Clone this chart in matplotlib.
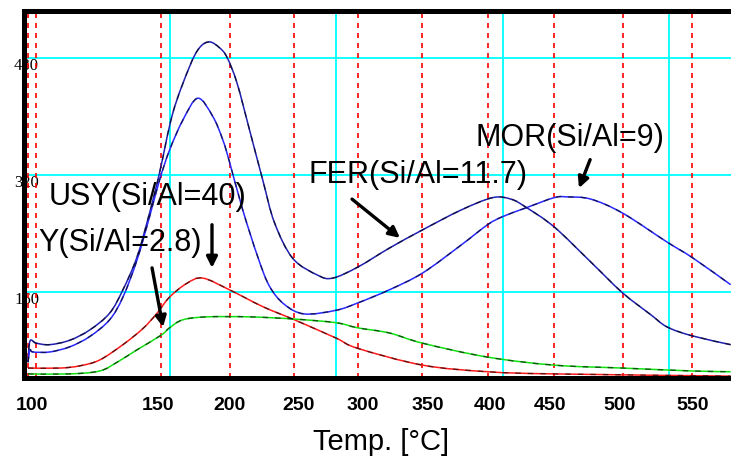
import matplotlib
matplotlib.use("Agg")
import matplotlib.pyplot as plt
from matplotlib.path import Path
from matplotlib.patches import PathPatch

# time axis in minutes, signal in a.u.
fer_t = [1.5, 1.62, 2.0, 2.8, 4.0, 5.2, 6.4, 7.2, 8.05, 8.8, 9.4, 10.2, 11.2, 11.8, 12.4, 13.0,
         13.45, 14.05, 14.8, 15.6, 16.3, 17.4, 18.9, 19.8, 21.3, 23.2, 25.2, 27.5, 29.4, 30.5,
         31.4, 33.1, 35.3, 37.2, 38.9, 39.9, 41.4, 43.7]
fer_y = [64, 93, 90, 88, 94, 108, 131, 163, 208, 268, 323, 405, 468, 494, 502, 494,
         481, 446, 382, 313, 255, 206, 183, 179, 194, 220, 245, 272, 289, 287,
         276, 249, 201, 159, 129, 112, 100, 88]

mor_t = [1.5, 1.62, 1.8, 2.8, 4.0, 5.2, 6.4, 7.2, 8.05, 8.8, 9.4, 10.0, 10.8, 11.7, 12.6,
         13.2, 13.6, 14.4, 15.3, 16.0, 16.9, 18.1, 20.0, 21.3, 23.2, 25.2, 27.5, 29.1, 30.0,
         31.4, 33.1, 33.9, 35.3, 37.2, 39.9, 41.4, 43.7]
mor_y = [64, 81, 78, 78, 85, 99, 122, 153, 204, 263, 313, 354, 395, 425, 400,
         368, 338, 272, 208, 168, 143, 130, 135, 145, 163, 186, 224, 252, 263,
         275, 289, 290, 287, 268, 228, 207, 170]

usy_t = [1.5, 3.4, 4.6, 5.8, 7.2, 8.4, 9.25, 10.0, 11.05, 12.0, 13.6, 15.6, 17.5, 20.0,
         21.3, 25.2, 29.1, 33.1, 43.7]
usy_y = [56, 56, 59, 67, 88, 110, 131, 153, 172, 179, 163, 140, 122, 97,
         83, 60, 51, 48, 45]

y_t = [1.5, 4.0, 5.8, 6.85, 8.05, 9.5, 10.0, 10.8, 12.25, 14.8, 17.5, 20.0, 21.3, 23.2,
       25.2, 29.1, 33.1, 37.2, 41.4, 43.7]
y_y = [48, 48, 52, 64, 81, 101, 111, 122, 126, 126, 123, 118, 111, 104,
       90, 71, 60, 56, 52, 51]

# red dashed temperature marks and their labels
temp_mark_t = [1.5, 1.98, 9.49, 13.63, 17.48, 21.32, 25.17, 29.13, 33.09, 37.24, 41.38]
temp_labels = ["100", "150", "200", "250", "300", "350", "400", "450", "500", "550"]
temp_label_t = [1.74, 9.31, 13.63, 17.72, 21.62, 25.53, 29.25, 32.85, 37.0, 41.44]

time_grid = [10, 20, 30, 40]
signal_grid = [160, 320, 480]


def smooth_path(xs, ys):
    # Catmull-Rom through the read points, drawn as cubic Bezier segments
    pts = list(zip(xs, ys))
    verts = [pts[0]]
    codes = [Path.MOVETO]
    n = len(pts)
    for i in range(n - 1):
        p0 = pts[max(i - 1, 0)]
        p1 = pts[i]
        p2 = pts[i + 1]
        p3 = pts[min(i + 2, n - 1)]
        c1 = (p1[0] + (p2[0] - p0[0]) / 6, p1[1] + (p2[1] - p0[1]) / 6)
        c2 = (p2[0] - (p3[0] - p1[0]) / 6, p2[1] - (p3[1] - p1[1]) / 6)
        verts += [c1, c2, p2]
        codes += [Path.CURVE4] * 3
    return Path(verts, codes)


W, H = 731, 466
fig = plt.figure(figsize=(W / 100, H / 100), dpi=100)
ax = fig.add_axes([23.5 / W, 1 - 377.5 / H, 707.5 / W, (377.5 - 10.8) / H])
ax.set_xlim(1.23, 43.72)
ax.set_ylim(43.1, 544.5)

for t in time_grid:
    ax.axvline(t, color="#00ffff", lw=1.3, zorder=1)
for s in signal_grid:
    ax.axhline(s, color="#00ffff", lw=1.3, zorder=1)
for t in temp_mark_t:
    ax.axvline(t, color="#ff0000", lw=1.2, dashes=(3, 3), zorder=1.2)

curves = [
    (fer_t, fer_y, "#2020b0"),
    (mor_t, mor_y, "#2828ff"),
    (usy_t, usy_y, "#ff1a1a"),
    (y_t, y_y, "#10e010"),
]
for xs, ys, c in curves:
    p = smooth_path(xs, ys)
    ax.add_patch(PathPatch(p, fill=False, edgecolor=c, lw=1.1, zorder=2))
    ax.add_patch(PathPatch(p, fill=False, edgecolor="black", lw=1.0,
                           linestyle=(0, (4, 5)), alpha=0.6, zorder=2.1))

# y tick labels, partly hidden by the thick left spine
for s in signal_grid:
    ax.text(1.41, s - 11, str(s), ha="center", va="center", fontsize=12,
            family="Liberation Serif", clip_on=False, zorder=1)

lab_font = dict(family="Liberation Sans", fontsize=22, color="black")
ax.text(8.68, 290, "USY(Si/Al=40)", ha="center", va="center", **lab_font)
ax.text(7.03, 227, "Y(Si/Al=2.8)", ha="center", va="center", **lab_font)
ax.text(24.9, 320, "FER(Si/Al=11.7)", ha="center", va="center", **lab_font)
ax.text(34.05, 371, "MOR(Si/Al=9)", ha="center", va="center", **lab_font)

arrow = dict(arrowstyle="-|>", lw=2.4, color="black", mutation_scale=16,
             shrinkA=0, shrinkB=0)
ax.annotate("", xy=(12.55, 193), xytext=(12.55, 252), arrowprops=arrow)
ax.annotate("", xy=(9.61, 112), xytext=(8.95, 193), arrowprops=arrow)
ax.annotate("", xy=(23.84, 234), xytext=(20.96, 287), arrowprops=arrow)
ax.annotate("", xy=(34.59, 302), xytext=(35.26, 341), arrowprops=arrow)

for t, lab in zip(temp_label_t, temp_labels):
    ax.text(t, -0.075, lab, transform=ax.get_xaxis_transform(), ha="center",
            va="center", fontsize=14, fontweight="bold", family="Liberation Sans",
            clip_on=False)

fig.text(381 / W, 1 - 442 / H, "Temp. [°C]", ha="center", va="center",
         fontsize=21, family="Liberation Sans")

ax.set_xticks([])
ax.set_yticks([])
for side in ["left", "bottom", "top"]:
    ax.spines[side].set_linewidth(3.6)
    ax.spines[side].set_color("black")
ax.spines["right"].set_visible(False)

fig.savefig("out.png", dpi=100)
